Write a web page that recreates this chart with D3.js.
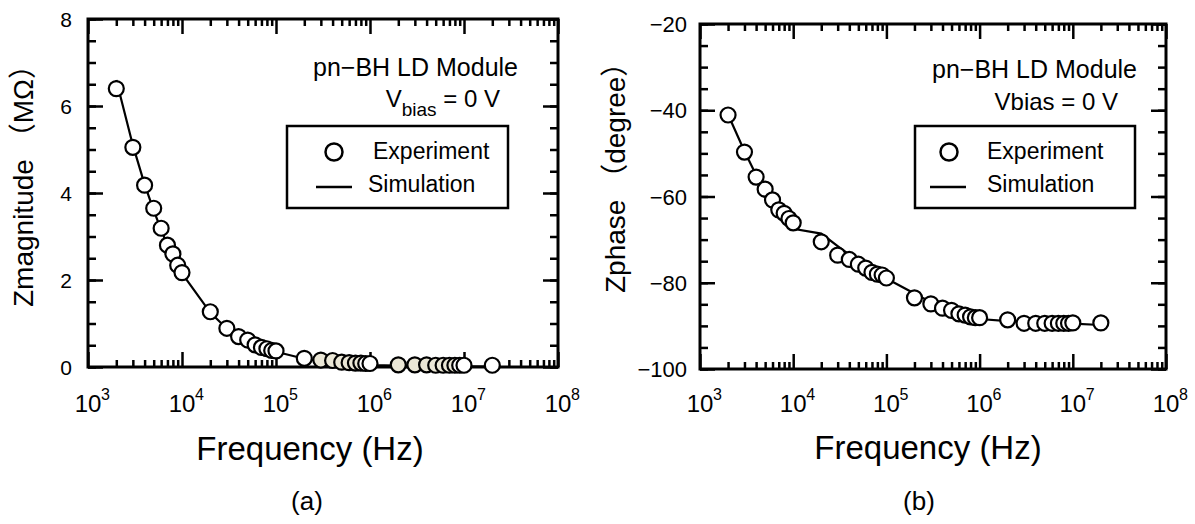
<!DOCTYPE html>
<html lang="en">
<meta charset="UTF-8">
<script src="https://d3js.org/d3.v7.min.js"></script>
<style>
  body { margin: 0; background: #fff; }
  text { font-family: "Liberation Sans", Arial, "Noto Sans CJK JP", sans-serif; fill: #000; }
</style>
<body>
<div id="chart"></div>
<script>
// measurement frequencies (Hz)
const freq = [2e3, 3e3, 4e3, 5e3, 6e3, 7e3, 8e3, 9e3,
              1e4, 2e4, 3e4, 4e4, 5e4, 6e4, 7e4, 8e4, 9e4,
              1e5, 2e5, 3e5, 4e5, 5e5, 6e5, 7e5, 8e5, 9e5,
              1e6, 2e6, 3e6, 4e6, 5e6, 6e6, 7e6, 8e6, 9e6,
              1e7, 2e7];

// (a) impedance magnitude, MOhm
const magExp = [6.4, 5.05, 4.18, 3.65, 3.19, 2.80, 2.60, 2.34,
                2.17, 1.27, 0.89, 0.70, 0.62, 0.51, 0.45, 0.42, 0.38,
                0.37, 0.20, 0.16, 0.15, 0.11, 0.10, 0.09, 0.09, 0.08,
                0.08, 0.05, 0.05, 0.05, 0.04, 0.04, 0.04, 0.04, 0.04,
                0.04, 0.04];
const magSim = [6.6, 5.1, 4.2, 3.6, 3.15, 2.8, 2.55, 2.33,
                2.15, 1.25, 0.88, 0.70, 0.58, 0.50, 0.45, 0.41, 0.38,
                0.35, 0.19, 0.13, 0.10, 0.08, 0.07, 0.06, 0.055, 0.05,
                0.045, 0.03, 0.025, 0.02, 0.02, 0.02, 0.015, 0.015, 0.015,
                0.015, 0.01];
// points drawn with a light fill in the original figure
const magShaded = [3e5, 4e5, 5e5, 6e5, 7e5, 8e5, 2e6, 3e6, 4e6, 5e6, 6e6, 7e6, 8e6];

// (b) impedance phase, degree
const phaseExp = [-41.1, -49.7, -55.5, -58.3, -60.8, -63.1, -63.9, -65.1,
                  -66.1, -70.5, -73.6, -74.6, -75.7, -76.6, -77.6, -78.0, -78.2,
                  -78.9, -83.5, -84.9, -85.9, -86.4, -87.2, -87.5, -87.9, -88.1,
                  -88.1, -88.6, -89.4, -89.4, -89.4, -89.4, -89.4, -89.4, -89.4,
                  -89.3, -89.3];
const phaseSim = [-41.0, -49.5, -55.0, -58.5, -61.0, -63.0, -64.6, -65.9,
                  -67.5, -68.6, -71.5, -73.5, -75.0, -76.1, -77.0, -77.8, -78.4,
                  -79.0, -82.5, -84.5, -85.7, -86.5, -87.1, -87.6, -87.9, -88.2,
                  -88.4, -88.9, -89.1, -89.2, -89.3, -89.4, -89.4, -89.5, -89.5,
                  -89.5, -89.8];

const decades = [1e3, 1e4, 1e5, 1e6, 1e7, 1e8];
const magTicks = [0, 2, 4, 6, 8];
const phaseTicks = [-100, -80, -60, -40, -20];

const svg = d3.select("#chart").append("svg")
    .attr("width", 1195).attr("height", 524);

function panel(o) {
  const x = d3.scaleLog().domain([1e3, 1e8]).range([o.x0, o.x1]);
  const y = d3.scaleLinear().domain(o.yDomain).range([o.y1, o.y0]);
  const g = svg.append("g");

  const minorX = [];
  for (let d = 1e3; d < 1e8; d *= 10)
    for (let k = 2; k <= 9; k++) minorX.push(d * k);
  const minorY = d3.range(o.yDomain[0], o.yDomain[1] + 1e-9, o.yMinor);

  const noLabel = () => "";
  const axes = [
    [d3.axisBottom(x).tickValues(decades), `translate(0,${o.y1})`, 15],
    [d3.axisBottom(x).tickValues(minorX), `translate(0,${o.y1})`, 7],
    [d3.axisTop(x).tickValues(decades), `translate(0,${o.y0})`, 15],
    [d3.axisTop(x).tickValues(minorX), `translate(0,${o.y0})`, 7],
    [d3.axisLeft(y).tickValues(o.yTicks), `translate(${o.x0},0)`, 15],
    [d3.axisLeft(y).tickValues(minorY), `translate(${o.x0},0)`, 8],
    [d3.axisRight(y).tickValues(o.yTicks), `translate(${o.x1},0)`, 15],
    [d3.axisRight(y).tickValues(minorY), `translate(${o.x1},0)`, 8]
  ];
  axes.forEach(([ax, tr, len]) => {
    const a = g.append("g").attr("transform", tr)
      .call(ax.tickSizeInner(-len).tickSizeOuter(0).tickFormat(noLabel));
    a.select(".domain").remove();
    a.selectAll("line").attr("stroke", "#000").attr("stroke-width", 2.5);
  });

  g.append("rect")
    .attr("x", o.x0).attr("y", o.y0)
    .attr("width", o.x1 - o.x0).attr("height", o.y1 - o.y0)
    .attr("fill", "none").attr("stroke", "#000").attr("stroke-width", 3);

  // tick labels
  decades.forEach(d => {
    const e = Math.round(Math.log10(d));
    g.append("text").attr("x", x(d)).attr("y", o.y1 + o.xLabDy)
      .attr("text-anchor", "middle").style("font-size", "24px").text("10");
    g.append("text").attr("x", x(d) + 13).attr("y", o.y1 + o.xLabDy - 12)
      .style("font-size", "16px").text(e);
  });
  o.yTicks.forEach(t => {
    g.append("text").attr("x", o.x0 - o.yLabGap).attr("y", y(t) + 8)
      .attr("text-anchor", "end").style("font-size", o.yFont)
      .text(String(t).replace("-", "\u2212"));
  });

  // axis titles
  g.append("text").attr("x", o.xTitleX).attr("y", o.y1 + o.xTitleDy)
    .attr("text-anchor", "middle").style("font-size", "33px")
    .text("Frequency (Hz)");
  g.append("text")
    .attr("transform", `translate(${o.yTitleX},${o.yTitleY}) rotate(-90)`)
    .style("font-size", "28px")
    .text(o.yTitle);
  g.append("text").attr("x", o.capX).attr("y", 510)
    .attr("text-anchor", "middle").style("font-size", "26px").text(o.caption);

  // simulation line
  g.append("path")
    .datum(d3.zip(freq, o.sim))
    .attr("d", d3.line().x(d => x(d[0])).y(d => y(d[1])))
    .attr("fill", "none").attr("stroke", "#000").attr("stroke-width", 2.2);

  // experiment points
  g.selectAll("circle.pt")
    .data(d3.zip(freq, o.exp))
    .join("circle").attr("class", "pt")
    .attr("cx", d => x(d[0])).attr("cy", d => y(d[1]))
    .attr("r", 7.5)
    .attr("fill", d => o.shaded.includes(d[0]) ? "#ebe7d6" : "#fff")
    .attr("stroke", "#000").attr("stroke-width", 2.2);

  // annotation
  const L = o.leg;
  g.append("text").attr("x", L.annoX).attr("y", L.annoY)
    .attr("text-anchor", "end").style("font-size", "25px")
    .text("pn\u2212BH LD Module");
  const vb = g.append("text").attr("x", L.vX).attr("y", L.vY)
    .attr("text-anchor", "end").style("font-size", "24px");
  if (L.subscript) {
    vb.append("tspan").text("V");
    vb.append("tspan").attr("dy", 9).style("font-size", "19px").text("bias");
    vb.append("tspan").attr("dy", -9).text(" = 0 V");
  } else {
    vb.text("Vbias = 0 V");
  }

  // legend
  g.append("rect").attr("x", L.bx).attr("y", 126)
    .attr("width", L.bw).attr("height", 82)
    .attr("fill", "#fff").attr("stroke", "#000").attr("stroke-width", 2.5);
  g.append("circle").attr("cx", L.cx).attr("cy", 152).attr("r", 8.5)
    .attr("fill", "#fff").attr("stroke", "#000").attr("stroke-width", 2.5);
  g.append("line").attr("x1", L.lx1).attr("x2", L.lx1 + 36)
    .attr("y1", 187).attr("y2", 187)
    .attr("stroke", "#000").attr("stroke-width", 2.5);
  g.append("text").attr("x", L.tx1).attr("y", 159)
    .style("font-size", "23px").text("Experiment");
  g.append("text").attr("x", L.tx2).attr("y", 192)
    .style("font-size", "23px").text("Simulation");
}

panel({
  x0: 88, x1: 558, y0: 19, y1: 367,
  yDomain: [0, 8], yTicks: magTicks, yMinor: 0.5, yFont: "21px", yLabGap: 16,
  xLabDy: 45, exp: magExp, sim: magSim, shaded: magShaded,
  xTitleX: 310, xTitleDy: 93,
  yTitleX: 33, yTitleY: 307,
  yTitle: "Zmagnitude \uff08M\u03a9\uff09", capX: 307, caption: "(a)",
  leg: { annoX: 518, annoY: 76, vX: 500, vY: 107, subscript: true,
         bx: 287, bw: 221, cx: 334, lx1: 316, tx1: 373, tx2: 368 }
});

panel({
  x0: 700, x1: 1166, y0: 24, y1: 369,
  yDomain: [-100, -20], yTicks: phaseTicks, yMinor: 5, yFont: "22px", yLabGap: 13,
  xLabDy: 43, exp: phaseExp, sim: phaseSim, shaded: [],
  xTitleX: 928, xTitleDy: 90,
  yTitleX: 625, yTitleY: 293,
  yTitle: "Zphase \uff08degree\uff09", capX: 919, caption: "(b)",
  leg: { annoX: 1137, annoY: 78, vX: 1118, vY: 110, subscript: false,
         bx: 915, bw: 220, cx: 949, lx1: 930, tx1: 987, tx2: 987 }
});
</script>
</body>
</html>
